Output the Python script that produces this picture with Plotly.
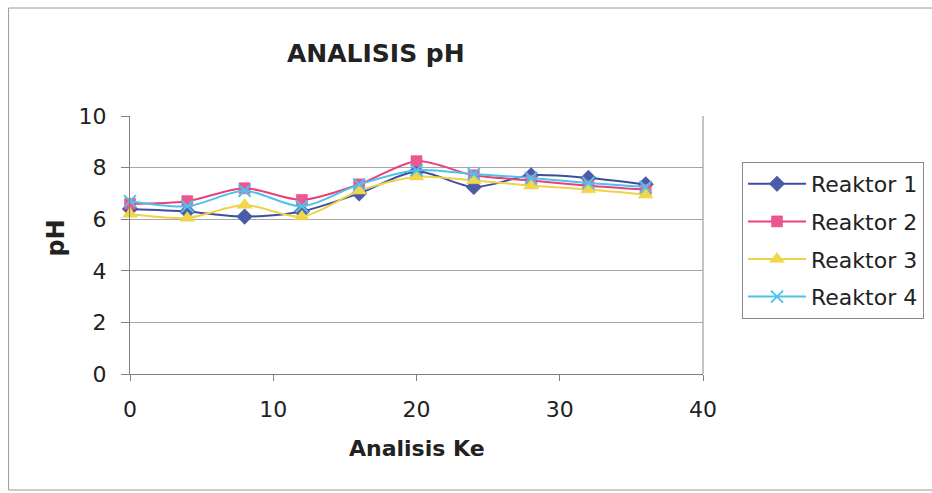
import plotly.graph_objects as go

# ---- data ----
analisis_ke = [0, 4, 8, 12, 16, 20, 24, 28, 32, 36]
reaktor_1 = [6.4, 6.3, 6.1, 6.3, 7.0, 7.85, 7.25, 7.7, 7.6, 7.35]
reaktor_2 = [6.6, 6.7, 7.2, 6.75, 7.35, 8.25, 7.7, 7.5, 7.3, 7.15]
reaktor_3 = [6.2, 6.05, 6.55, 6.1, 7.1, 7.65, 7.5, 7.3, 7.15, 6.95]
reaktor_4 = [6.7, 6.5, 7.1, 6.5, 7.35, 7.9, 7.75, 7.6, 7.4, 7.25]
series_names = ["Reaktor 1", "Reaktor 2", "Reaktor 3", "Reaktor 4"]
x_ticks = [0, 10, 20, 30, 40]
y_ticks = [0, 2, 4, 6, 8, 10]

FONT = "DejaVu Sans"
W, H = 932, 493
ML, MR, MT, MB = 129.5, 229, 116, 119

styles = [
    dict(color="#3C4F9E", symbol="diamond", size=12, fill="#4A5BA8"),
    dict(color="#E9407A", symbol="square", size=11, fill="#EE5690"),
    dict(color="#EDD24A", symbol="triangle-up", size=13, fill="#F2D64A"),
    dict(color="#4EC2EA", symbol="x-thin", size=12, fill="#4EC2EA"),
]

fig = go.Figure()
for name, ys, st in zip(series_names, [reaktor_1, reaktor_2, reaktor_3, reaktor_4], styles):
    marker = dict(symbol=st["symbol"], size=st["size"], color=st["fill"],
                  line=dict(color=st["color"], width=2 if st["symbol"] == "x-thin" else 0.5))
    fig.add_trace(go.Scatter(
        x=analisis_ke, y=ys, name=name, legendgroup=name,
        mode="lines+markers",
        line=dict(color=st["color"], width=2, shape="spline", smoothing=0.8),
        marker=marker, cliponaxis=False,
    ))

pw = W - ML - MR
ph = H - MT - MB

def px_x(p):
    return (p - ML) / pw

def px_y(p):
    return (H - MB - p) / ph

fig.update_layout(
    width=W, height=H,
    margin=dict(l=ML, r=MR, t=MT, b=MB, pad=0, autoexpand=False),
    paper_bgcolor="white", plot_bgcolor="white",
    font=dict(family=FONT, color="#222222", size=21),
    showlegend=True,
    legend=dict(
        xref="container", yref="container",
        x=742 / W, y=1 - 162 / H, xanchor="left", yanchor="top",
        bordercolor="#8A8A8A", borderwidth=1, bgcolor="white",
        font=dict(family=FONT, size=22, color="#222222"),
        traceorder="grouped", tracegroupgap=6, itemwidth=58,
    ),
    xaxis=dict(
        range=[0, 40], tickvals=x_ticks, showgrid=False, zeroline=False,
        showline=True, linecolor="#7F7F7F", linewidth=1,
        ticks="outside", ticklen=6, tickcolor="#7F7F7F",
        tickfont=dict(family=FONT, size=22, color="#222222"),
        ticklabelstandoff=10, mirror=False,
    ),
    yaxis=dict(
        range=[0, 10], tickvals=y_ticks, showgrid=True, gridcolor="#A8A8A8", gridwidth=1,
        zeroline=False, showline=True, linecolor="#7F7F7F", linewidth=1,
        ticks="outside", ticklen=8, tickcolor="#7F7F7F",
        tickfont=dict(family=FONT, size=22, color="#222222"),
        ticklabelstandoff=10,
    ),
    annotations=[
        dict(text="<b>ANALISIS pH</b>", x=px_x(376), y=px_y(53), xref="paper", yref="paper",
             showarrow=False, xanchor="center", yanchor="middle",
             font=dict(family=FONT, size=25, color="#222222")),
        dict(text="<b>Analisis Ke</b>", x=px_x(417), y=px_y(448), xref="paper", yref="paper",
             showarrow=False, xanchor="center", yanchor="middle",
             font=dict(family=FONT, size=22, color="#222222")),
        dict(text="<b>pH</b>", x=px_x(55), y=px_y(238), xref="paper", yref="paper",
             showarrow=False, xanchor="center", yanchor="middle", textangle=-90,
             font=dict(family=FONT, size=24, color="#222222")),
    ],
    shapes=[
        # right border of plot area
        dict(type="line", xref="paper", yref="paper", x0=1, x1=1, y0=0, y1=1,
             line=dict(color="#8A8A8A", width=1)),
        # outer chart border
        dict(type="rect", xref="paper", yref="paper",
             x0=px_x(8), x1=px_x(940), y0=px_y(490), y1=px_y(8),
             line=dict(color="#9A9A9A", width=1), layer="below"),
    ],
)

fig.write_html("out.html")
